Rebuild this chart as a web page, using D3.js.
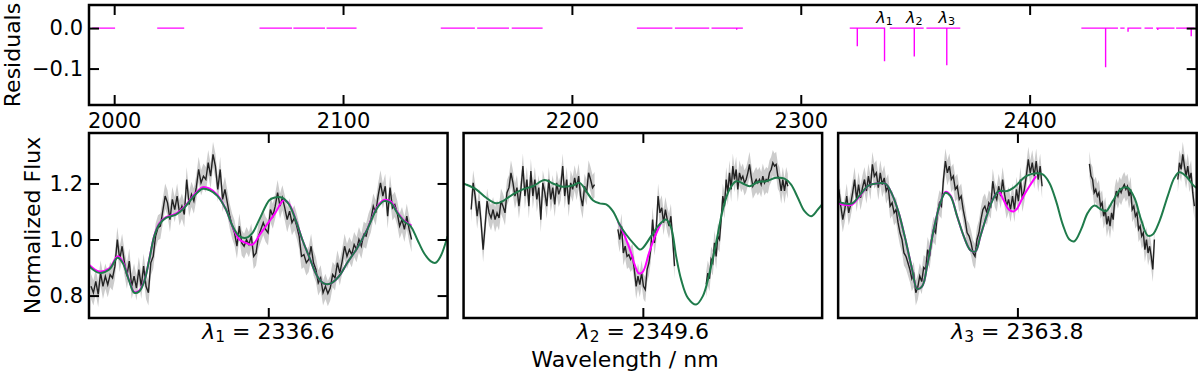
<!DOCTYPE html>
<html lang="en">
  <head>
    <meta charset="UTF-8" />
    <title>Residuals and line fits</title>
    <script src="https://cdn.jsdelivr.net/npm/d3@7"></script>
    <style>
      body { margin: 0; background: #fff; }
      svg text { font-family: "DejaVu Sans", sans-serif; }
    </style>
  </head>
  <body>
    <script>
      // ---- data ----
      var lineCentres = [2336.6, 2349.6, 2363.8];
      var lineIndex = ["1", "2", "3"];

      var resTicksX = [2000, 2100, 2200, 2300, 2400];
      var resTicksY = [0.0, -0.1];
      var fluxTicks = [0.8, 1.0, 1.2];

      // residual segments (nm) drawn at 0, with spikes
      var resRanges = [
        [1990.4, 2000.4], [2018.8, 2030.6], [2063.5, 2077.7], [2078.3, 2092.1],
        [2092.8, 2105.9], [2142.7, 2157.6], [2158.6, 2172.5], [2173.7, 2187.2],
        [2228.4, 2243.9], [2245.0, 2260.0], [2261.0, 2274.7], [2321.4, 2336.6],
        [2338.9, 2353.7], [2354.9, 2369.7], [2422.6, 2438.6], [2439.6, 2441.5],
        [2443.0, 2448.8], [2450.2, 2453.9], [2455.3, 2463.3], [2464.0, 2472.0]
      ];
      var resSpikeWl = [2272.0, 2324.7, 2336.6, 2349.6, 2363.8, 2433.2, 2443.0, 2456.0, 2470.6];
      var resSpikeVal = [-0.004, -0.045, -0.082, -0.070, -0.092, -0.097, -0.009, -0.005, -0.020];

      // observed flux, uniform grid between start/end (offset from line centre, nm)
      var flux1 = [
        0.833, 0.81, 0.851, 0.804, 0.881, 0.833, 0.869, 0.839, 0.875, 0.863,
        0.905, 1.0, 0.929, 0.976, 0.917, 0.869, 0.923, 0.833, 0.869, 0.827,
        0.893, 0.833, 0.905, 0.833, 0.81, 0.917, 0.94, 1.012, 1.042, 1.048,
        1.101, 1.155, 1.131, 1.071, 1.143, 1.107, 1.155, 1.095, 1.119, 1.089,
        1.214, 1.125, 1.161, 1.137, 1.185, 1.25, 1.202, 1.226, 1.214, 1.274,
        1.226, 1.304, 1.262, 1.179, 1.25, 1.143, 1.179, 1.131, 1.083, 1.048,
        1.024, 0.976, 1.048, 0.988, 0.976, 1.0, 0.982, 1.012, 0.94, 0.952,
        1.012, 1.036, 1.06, 1.036, 1.024,
        1.107, 1.083, 1.119, 1.167, 1.119, 1.149, 1.113, 1.071, 1.101, 1.06,
        1.077, 1.048, 1.012, 0.94, 0.946, 0.917, 0.929, 0.976, 0.917, 0.893,
        0.845, 0.863, 0.81, 0.833, 0.807, 0.827, 0.875, 0.863, 0.917, 0.881,
        0.923, 0.976, 0.94, 0.964, 0.946, 0.982, 0.964, 1.0, 0.976, 1.018,
        1.012, 1.048, 1.071, 1.119, 1.095, 1.155, 1.202, 1.155, 1.19, 1.083,
        1.185, 1.113, 1.125, 1.095, 1.048, 1.071, 1.036, 1.083, 1.036, 1.0
      ];
      var flux2a = [
        1.107, 1.202, 1.155, 1.083, 1.137, 1.06, 0.964, 1.048, 1.137, 1.095,
        1.077, 1.107, 1.071, 1.095, 1.077, 1.137, 1.119, 1.095, 1.167, 1.185,
        1.238, 1.202, 1.155, 1.185, 1.119, 1.179, 1.262, 1.155, 1.214, 1.119,
        1.244, 1.155, 1.214, 1.143, 1.185, 1.071, 1.202, 1.167, 1.119, 1.214,
        1.143, 1.185, 1.125, 1.202, 1.161, 1.185, 1.262, 1.155, 1.214, 1.125,
        1.202, 1.179, 1.22, 1.185, 1.226, 1.155, 1.119, 1.19, 1.167, 1.238,
        1.214, 1.185, 1.196
      ];
      var flux2b = [
        1.036, 1.0, 1.048, 0.952, 0.976, 0.94, 0.946, 0.929, 0.94, 0.893,
        0.833, 0.869, 0.839, 0.881, 0.833, 0.821, 0.893, 0.917, 0.964, 1.071,
        0.988, 1.036, 1.155, 1.095, 1.113, 1.06, 1.107, 1.071, 1.048, 1.083,
        1.0, 0.905
      ];
      var flux2c = [
        0.84, 0.88, 0.86, 0.93, 0.917, 0.988, 0.94, 1.012, 1.0, 1.071,
        1.155, 1.119, 1.214, 1.167, 1.238, 1.179, 1.262, 1.214, 1.25, 1.179,
        1.238, 1.214, 1.226, 1.202, 1.214, 1.238, 1.268, 1.226, 1.19, 1.202,
        1.214, 1.202, 1.214, 1.196, 1.226, 1.202, 1.214, 1.208, 1.238, 1.25,
        1.274, 1.262, 1.268, 1.226, 1.214, 1.173, 1.214, 1.173, 1.214, 1.19
      ];
      var flux3a = [
        1.179, 1.119, 1.071, 1.107, 1.155, 1.095, 1.125, 1.167, 1.214, 1.143,
        1.196, 1.149, 1.185, 1.214, 1.173, 1.226, 1.185, 1.268, 1.226, 1.238,
        1.185, 1.238, 1.196, 1.22, 1.173, 1.19, 1.119, 1.131, 1.095, 1.107,
        1.06, 1.024, 1.0, 0.952, 0.94, 0.917, 0.893, 0.86, 0.875, 0.81,
        0.83, 0.87, 0.85, 0.9, 0.893, 0.964, 0.94, 1.0, 1.036, 1.024,
        1.095, 1.131, 1.119, 1.214, 1.28, 1.238, 1.262, 1.214, 1.226, 1.179,
        1.19, 1.143, 1.155, 1.107, 1.071, 1.024, 1.012, 0.988, 0.952, 0.94,
        1.0, 1.024, 1.071, 1.107, 1.119, 1.095, 1.131, 1.119, 1.208, 1.161,
        1.143, 1.19, 1.155, 1.214, 1.161, 1.119, 1.143, 1.107, 1.155, 1.107,
        1.179,
        1.137, 1.214, 1.143, 1.179, 1.226, 1.286, 1.238, 1.274, 1.226, 1.28,
        1.214, 1.262, 1.19
      ];
      var flux3b = [
        1.27, 1.226, 1.214, 1.167, 1.179, 1.155, 1.167, 1.119, 1.131, 1.083,
        1.107, 1.054, 1.083, 1.048, 1.095, 1.071, 1.143, 1.173, 1.155, 1.179,
        1.167, 1.185, 1.196, 1.179, 1.19, 1.155, 1.179, 1.107, 1.119, 1.083,
        1.095, 1.036, 1.048, 1.012, 1.024, 0.964, 1.0, 0.952, 0.976, 0.94,
        0.893, 1.0
      ];
      var flux3c = [1.214, 1.274, 1.25, 1.304, 1.262, 1.226, 1.262, 1.214, 1.238, 1.167, 1.119];

      var obsStart = [[-1.773], [-1.717, -0.25, 0.633], [-1.786, 0.72, 1.604]];
      var obsEnd = [[1.433], [-0.483, 0.317, 1.45], [0.247, 1.37, 1.77]];
      var obsFlux = [[flux1], [flux2a, flux2b, flux2c], [flux3a, flux3b, flux3c]];
      var fluxErr = 0.045;

      // model spectrum (green), [offset nm, flux]
      var model1 = [
        [-1.793, 0.905], [-1.69, 0.881], [-1.59, 0.893], [-1.507, 0.935], [-1.457, 0.917],
        [-1.39, 0.851], [-1.34, 0.81], [-1.29, 0.815], [-1.24, 0.851], [-1.19, 0.929],
        [-1.14, 1.012], [-1.09, 1.054], [-1.023, 1.077], [-0.923, 1.089], [-0.84, 1.113],
        [-0.757, 1.149], [-0.657, 1.181], [-0.59, 1.176], [-0.507, 1.155], [-0.423, 1.107],
        [-0.357, 1.048], [-0.29, 1.012], [-0.223, 1.006], [-0.157, 1.024], [-0.09, 1.071],
        [0.01, 1.14], [0.057, 1.149], [0.14, 1.149], [0.207, 1.125], [0.273, 1.071],
        [0.34, 1.0], [0.407, 0.94], [0.49, 0.869], [0.557, 0.843], [0.623, 0.843],
        [0.707, 0.869], [0.79, 0.917], [0.89, 0.97], [0.99, 1.036], [1.09, 1.113],
        [1.157, 1.137], [1.223, 1.131], [1.29, 1.095], [1.357, 1.065], [1.423, 1.048],
        [1.49, 1.0], [1.557, 0.952], [1.623, 0.923], [1.673, 0.917], [1.723, 0.94],
        [1.793, 1.012]
      ];
      var model2 = [
        [-1.8, 1.2], [-1.767, 1.196], [-1.667, 1.179], [-1.567, 1.149], [-1.467, 1.129],
        [-1.4, 1.137], [-1.3, 1.161], [-1.2, 1.179], [-1.1, 1.19], [-0.983, 1.212],
        [-0.9, 1.2], [-0.8, 1.188], [-0.7, 1.193], [-0.633, 1.202], [-0.567, 1.173],
        [-0.5, 1.14], [-0.433, 1.129], [-0.367, 1.125], [-0.3, 1.101], [-0.233, 1.054],
        [-0.167, 1.018], [-0.083, 0.982], [-0.03, 0.964], [0.0, 0.97], [0.083, 1.012],
        [0.167, 1.054], [0.233, 1.071], [0.283, 1.042], [0.333, 0.94], [0.383, 0.857],
        [0.45, 0.792], [0.533, 0.768], [0.6, 0.798], [0.667, 0.881], [0.733, 0.988],
        [0.8, 1.107], [0.867, 1.179], [0.933, 1.208], [1.0, 1.2], [1.067, 1.19],
        [1.15, 1.205], [1.233, 1.208], [1.333, 1.22], [1.417, 1.217], [1.483, 1.196],
        [1.55, 1.149], [1.617, 1.101], [1.683, 1.083], [1.75, 1.107], [1.8, 1.129]
      ];
      var model3 = [
        [-1.804, 1.137], [-1.737, 1.129], [-1.653, 1.129], [-1.57, 1.161], [-1.487, 1.193],
        [-1.403, 1.2], [-1.32, 1.199], [-1.253, 1.161], [-1.187, 1.095], [-1.12, 1.0],
        [-1.053, 0.893], [-1.003, 0.824], [-0.953, 0.833], [-0.903, 0.905], [-0.837, 1.036],
        [-0.77, 1.131], [-0.72, 1.167], [-0.67, 1.155], [-0.603, 1.083], [-0.537, 1.012],
        [-0.47, 0.962], [-0.42, 0.958], [-0.37, 1.012], [-0.303, 1.089], [-0.237, 1.149],
        [-0.187, 1.173], [-0.103, 1.173], [-0.037, 1.185], [0.087, 1.226], [0.187, 1.236],
        [0.253, 1.232], [0.32, 1.202], [0.387, 1.137], [0.453, 1.054], [0.52, 1.0],
        [0.57, 0.994], [0.637, 1.036], [0.703, 1.095], [0.77, 1.121], [0.837, 1.107],
        [0.887, 1.101], [0.953, 1.137], [1.037, 1.181], [1.103, 1.185], [1.17, 1.149],
        [1.237, 1.071], [1.303, 1.014], [1.353, 1.018], [1.42, 1.065], [1.503, 1.155],
        [1.57, 1.22], [1.62, 1.24], [1.687, 1.226], [1.753, 1.196], [1.804, 1.181]
      ];

      // fitted profile (magenta), [offset nm, flux]
      var fit1 = [
        [-1.793, 0.91], [-1.69, 0.886], [-1.59, 0.897], [-1.507, 0.94], [-1.457, 0.922],
        [-1.39, 0.853], [-1.34, 0.813], [-1.29, 0.818], [-1.24, 0.853], [-1.19, 0.93],
        [-1.14, 1.014], [-1.09, 1.058], [-1.023, 1.08], [-0.923, 1.092], [-0.84, 1.116],
        [-0.757, 1.153], [-0.657, 1.187], [-0.59, 1.182], [-0.507, 1.158], [-0.423, 1.107],
        [-0.357, 1.046], [-0.29, 1.0], [-0.223, 0.988], [-0.16, 0.982], [-0.08, 1.02],
        [0.0, 1.06], [0.07, 1.095], [0.154, 1.14], [0.207, 1.128], [0.273, 1.072],
        [0.34, 1.0], [0.407, 0.94], [0.49, 0.869], [0.557, 0.843], [0.623, 0.843],
        [0.707, 0.869], [0.79, 0.917], [0.89, 0.97], [0.99, 1.037], [1.09, 1.117],
        [1.157, 1.141], [1.223, 1.136], [1.29, 1.098], [1.357, 1.068], [1.433, 1.05]
      ];
      var fit2 = [
        [-0.25, 1.062], [-0.233, 1.054], [-0.167, 1.0], [-0.117, 0.952], [-0.083, 0.911],
        [-0.04, 0.879], [0.0, 0.885], [0.06, 0.95], [0.12, 1.01], [0.183, 1.06]
      ];
      var fit3 = [
        [-1.804, 1.132], [-1.737, 1.124], [-1.653, 1.125], [-1.57, 1.158], [-1.487, 1.193],
        [-1.403, 1.2], [-1.32, 1.199], [-1.253, 1.161], [-1.187, 1.095], [-1.12, 1.0],
        [-1.053, 0.893], [-1.003, 0.824], [-0.953, 0.833], [-0.903, 0.905], [-0.837, 1.036],
        [-0.77, 1.131], [-0.72, 1.17], [-0.67, 1.158], [-0.603, 1.083], [-0.537, 1.012],
        [-0.47, 0.962], [-0.42, 0.958], [-0.37, 1.012], [-0.303, 1.089], [-0.237, 1.15],
        [-0.187, 1.17], [-0.137, 1.14], [-0.087, 1.107], [-0.037, 1.1], [0.0, 1.112],
        [0.053, 1.15], [0.12, 1.19], [0.187, 1.226]
      ];
      var models = [model1, model2, model3];
      var fits = [fit1, fit2, fit3];

      // ---- layout ----
      var W = 1200, H = 374;
      var plotLeft = 89, plotRight = 1196.7;
      var resTop = 5, resBottom = 105;
      var panTop = 133, panBottom = 318, panGap = 16;
      var panW = (plotRight - plotLeft - 2 * panGap) / 3;
      var halfWidth = 1.793;

      var green = "#1f7b4b", magenta = "#ff00ff", band = "#cccccc", ink = "#222";
      var tickFont = 21, labelFont = 22;

      var svg = d3.select("body").append("svg").attr("width", W).attr("height", H);
      var defs = svg.append("defs");

      function styleAxis(g) {
        g.select(".domain").remove();
        g.attr("font-size", tickFont).attr("font-family", "DejaVu Sans");
        g.selectAll(".tick line").attr("stroke", "#000").attr("stroke-width", 2);
        g.selectAll(".tick text").attr("fill", "#000");
      }

      function lambdaText(sel, idx, value, size) {
        sel.append("tspan").style("font-style", "italic").text("\u03bb");
        sel.append("tspan").attr("font-size", size * 0.7).attr("dy", size * 0.15).text(idx);
        if (value !== null) {
          sel.append("tspan").attr("dy", -size * 0.15).text(" = " + value);
        }
      }

      // ---- residual panel ----
      var xRes = d3.scaleLinear().domain([1989, 2473]).range([plotLeft, plotRight]);
      var yRes = d3.scaleLinear().domain([-0.19, 0.057]).range([resBottom, resTop]);

      defs.append("clipPath").attr("id", "clipRes").append("rect")
        .attr("x", plotLeft).attr("y", resTop)
        .attr("width", plotRight - plotLeft).attr("height", resBottom - resTop);

      var resLine = d3.line()
        .x(function (d) { return xRes(d[0]); })
        .y(function (d) { return yRes(d[1]); });

      var resPaths = resRanges.map(function (r) {
        var pts = [[r[0], 0]];
        resSpikeWl.forEach(function (w, i) {
          if (w >= r[0] && w <= r[1]) {
            pts.push([w, 0], [w, resSpikeVal[i]], [w, 0]);
          }
        });
        pts.push([r[1], 0]);
        return pts;
      });

      svg.append("g").attr("clip-path", "url(#clipRes)")
        .selectAll("path").data(resPaths).enter().append("path")
        .attr("d", resLine)
        .attr("fill", "none")
        .attr("stroke", magenta)
        .attr("stroke-width", 1.4);

      svg.append("g").selectAll("text").data(lineCentres).enter().append("text")
        .attr("x", function (d) { return xRes(d); })
        .attr("y", 23)
        .attr("text-anchor", "middle")
        .attr("font-size", 16)
        .each(function (d, i) { lambdaText(d3.select(this), lineIndex[i], null, 16); });

      svg.append("g").attr("transform", "translate(0," + resBottom + ")")
        .call(d3.axisBottom(xRes).tickValues(resTicksX).tickSize(-10).tickSizeOuter(0).tickPadding(8).tickFormat(d3.format("d")))
        .call(styleAxis);
      svg.append("g").attr("transform", "translate(0," + resTop + ")")
        .call(d3.axisTop(xRes).tickValues(resTicksX).tickSize(-10).tickSizeOuter(0).tickFormat(""))
        .call(styleAxis);
      svg.append("g").attr("transform", "translate(" + plotLeft + ",0)")
        .call(d3.axisLeft(yRes).tickValues(resTicksY).tickSize(-10).tickSizeOuter(0).tickPadding(6).tickFormat(d3.format(".1f")))
        .call(styleAxis);
      svg.append("g").attr("transform", "translate(" + plotRight + ",0)")
        .call(d3.axisRight(yRes).tickValues(resTicksY).tickSize(-10).tickSizeOuter(0).tickFormat(""))
        .call(styleAxis);

      svg.append("rect")
        .attr("x", plotLeft).attr("y", resTop)
        .attr("width", plotRight - plotLeft).attr("height", resBottom - resTop)
        .attr("fill", "none").attr("stroke", "#000").attr("stroke-width", 2.5);

      svg.append("text")
        .attr("transform", "translate(20," + (resTop + resBottom) / 2 + ") rotate(-90)")
        .attr("text-anchor", "middle")
        .attr("font-size", labelFont)
        .text("Residuals");

      // ---- zoomed line panels ----
      var yFlux = d3.scaleLinear().domain([0.72, 1.38]).range([panBottom, panTop]);

      lineCentres.forEach(function (centre, p) {
        var left = plotLeft + p * (panW + panGap);
        var x = d3.scaleLinear().domain([-halfWidth, halfWidth]).range([left, left + panW]);

        defs.append("clipPath").attr("id", "clip" + p).append("rect")
          .attr("x", left).attr("y", panTop)
          .attr("width", panW).attr("height", panBottom - panTop);

        var g = svg.append("g").attr("clip-path", "url(#clip" + p + ")");

        var segs = obsFlux[p].map(function (arr, s) {
          var a = obsStart[p][s], b = obsEnd[p][s];
          return arr.map(function (f, i) {
            return [a + (b - a) * i / (arr.length - 1), f];
          });
        });

        var area = d3.area()
          .x(function (d) { return x(d[0]); })
          .y0(function (d) { return yFlux(d[1] - fluxErr); })
          .y1(function (d) { return yFlux(d[1] + fluxErr); });
        var obsLine = d3.line()
          .x(function (d) { return x(d[0]); })
          .y(function (d) { return yFlux(d[1]); });
        var smooth = d3.line()
          .x(function (d) { return x(d[0]); })
          .y(function (d) { return yFlux(d[1]); })
          .curve(d3.curveCatmullRom.alpha(0.5));

        g.selectAll(".band").data(segs).enter().append("path")
          .attr("class", "band")
          .attr("d", area)
          .attr("fill", band);

        g.selectAll(".obs").data(segs).enter().append("path")
          .attr("class", "obs")
          .attr("d", obsLine)
          .attr("fill", "none")
          .attr("stroke", ink)
          .attr("stroke-width", 1.4);

        g.append("path")
          .attr("d", smooth(fits[p]))
          .attr("fill", "none")
          .attr("stroke", magenta)
          .attr("stroke-width", 2);

        g.append("path")
          .attr("d", smooth(models[p]))
          .attr("fill", "none")
          .attr("stroke", green)
          .attr("stroke-width", 2);

        svg.append("g").attr("transform", "translate(0," + panBottom + ")")
          .call(d3.axisBottom(x).tickValues([0]).tickSize(-10).tickSizeOuter(0).tickFormat(""))
          .call(styleAxis);
        svg.append("g").attr("transform", "translate(0," + panTop + ")")
          .call(d3.axisTop(x).tickValues([0]).tickSize(-10).tickSizeOuter(0).tickFormat(""))
          .call(styleAxis);

        if (p === 0) {
          svg.append("g").attr("transform", "translate(" + left + ",0)")
            .call(d3.axisLeft(yFlux).tickValues(fluxTicks).tickSize(-10).tickSizeOuter(0).tickPadding(6).tickFormat(d3.format(".1f")))
            .call(styleAxis);
          svg.append("g").attr("transform", "translate(" + (left + panW) + ",0)")
            .call(d3.axisRight(yFlux).tickValues(fluxTicks).tickSize(-10).tickSizeOuter(0).tickFormat(""))
            .call(styleAxis);
        }

        svg.append("rect")
          .attr("x", left).attr("y", panTop)
          .attr("width", panW).attr("height", panBottom - panTop)
          .attr("fill", "none").attr("stroke", "#000").attr("stroke-width", 2.5);

        svg.append("text")
          .attr("x", left + panW / 2)
          .attr("y", 339)
          .attr("text-anchor", "middle")
          .attr("font-size", labelFont)
          .each(function () { lambdaText(d3.select(this), lineIndex[p], centre.toFixed(1), labelFont); });
      });

      svg.append("text")
        .attr("transform", "translate(40," + (panTop + panBottom) / 2 + ") rotate(-90)")
        .attr("text-anchor", "middle")
        .attr("font-size", labelFont)
        .text("Normalized Flux");

      svg.append("text")
        .attr("x", 625)
        .attr("y", 367)
        .attr("text-anchor", "middle")
        .attr("font-size", labelFont)
        .text("Wavelength / nm");
    </script>
  </body>
</html>
